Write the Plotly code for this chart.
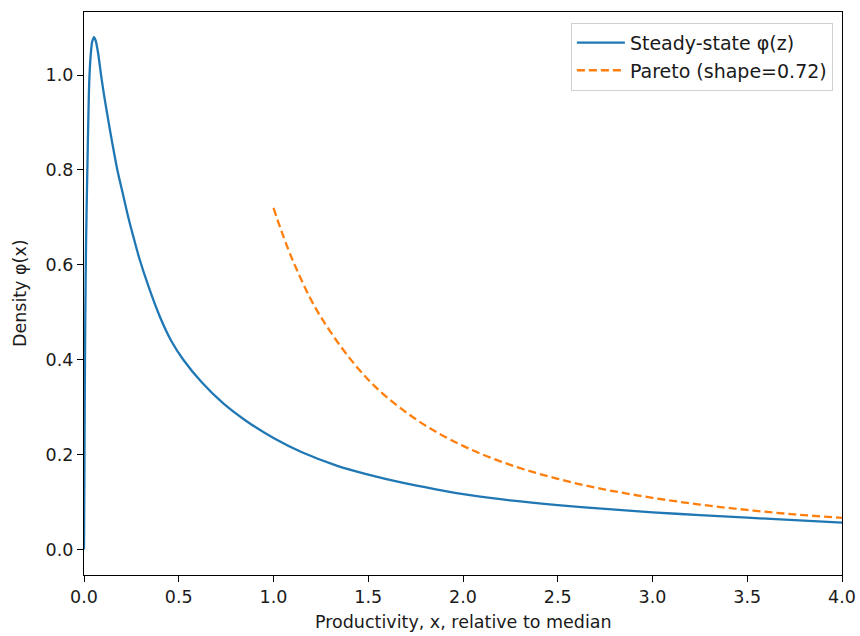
import plotly.graph_objects as go

# Steady-state density
ss_x = [0, 0.002, 0.004, 0.007, 0.011, 0.0176, 0.023, 0.028, 0.035, 0.043, 0.053,
        0.062, 0.075, 0.09, 0.105, 0.128, 0.15, 0.176, 0.205, 0.234, 0.26, 0.291,
        0.34, 0.401, 0.46, 0.524, 0.62, 0.735, 0.86, 1.0, 1.15, 1.333, 1.5, 1.685,
        1.85, 2.037, 2.25, 2.5, 2.75, 3.0, 3.25, 3.5, 3.75, 4.0]
ss_y = [0, 0.15, 0.32, 0.5, 0.65, 0.8, 0.91, 0.99, 1.04, 1.07, 1.08,
        1.072, 1.045, 1.0, 0.96, 0.905, 0.855, 0.8, 0.75, 0.70, 0.66, 0.615,
        0.555, 0.49, 0.44, 0.40, 0.353, 0.308, 0.27, 0.235, 0.205, 0.177, 0.158, 0.1405,
        0.1275, 0.1145, 0.1035, 0.0935, 0.0855, 0.0785, 0.0725, 0.0672, 0.0618, 0.0565]

# Pareto reference curve
par_x = [1.0, 1.1, 1.25, 1.5, 1.75, 2.0, 2.25, 2.5, 2.75, 3.0, 3.25, 3.5, 3.75, 4.0]
par_y = [0.72, 0.611, 0.490, 0.358, 0.275, 0.2185, 0.1785, 0.149, 0.1264, 0.109,
         0.0948, 0.0834, 0.0741, 0.0667]

x_ticks = [0, 0.5, 1.0, 1.5, 2.0, 2.5, 3.0, 3.5, 4.0]
y_ticks = [0, 0.2, 0.4, 0.6, 0.8, 1.0]

FONT = "DejaVu Sans"
FS = 17.5
TXT = "#1a1a1a"

fig = go.Figure()
fig.add_trace(go.Scatter(x=ss_x, y=ss_y, mode="lines", name="Steady-state φ(z)",
                         line_shape="spline",
                         line=dict(color="#1f77b4", width=2.3, smoothing=0.8)))
fig.add_trace(go.Scatter(x=par_x, y=par_y, mode="lines", name="Pareto (shape=0.72)",
                         line_shape="spline",
                         line=dict(color="#ff7f0e", width=2.3, dash="8px,4px")))

axis_common = dict(showline=True, linecolor="black", linewidth=1.1, mirror=True,
                   showgrid=False, zeroline=False, ticks="outside", ticklen=6,
                   tickwidth=1.1, tickcolor="black", automargin=False,
                   tickfont=dict(family=FONT, size=FS, color=TXT))

fig.update_layout(
    width=860, height=636,
    margin=dict(l=84, r=18, t=12, b=61),
    paper_bgcolor="white", plot_bgcolor="white",
    font=dict(family=FONT, size=FS, color=TXT),
    xaxis=dict(range=[0, 4], tickvals=x_ticks,
               ticktext=[f"{v:.1f}" for v in x_ticks], **axis_common),
    yaxis=dict(range=[-0.0537, 1.133], tickvals=y_ticks,
               ticktext=[f"{v:.1f}" for v in y_ticks], **axis_common),
    legend=dict(x=0.988, y=0.981, xanchor="right", yanchor="top",
                bgcolor="rgba(255,255,255,0.8)", bordercolor="#d0d0d0", borderwidth=1,
                font=dict(family=FONT, size=19, color=TXT),
                itemwidth=48),
    showlegend=True,
    annotations=[
        dict(text="Productivity, x, relative to median", xref="paper", yref="paper",
             x=0.5, y=-0.083, xanchor="center", yanchor="middle", showarrow=False,
             font=dict(family=FONT, size=FS, color=TXT)),
        dict(text="Density φ(x)", xref="paper", yref="paper",
             x=-0.085, y=0.5, xanchor="center", yanchor="middle", showarrow=False,
             textangle=-90, font=dict(family=FONT, size=FS, color=TXT)),
    ],
)

fig.write_html("out.html", config={"displayModeBar": False},
               post_script="document.body.style.margin='0px';")
